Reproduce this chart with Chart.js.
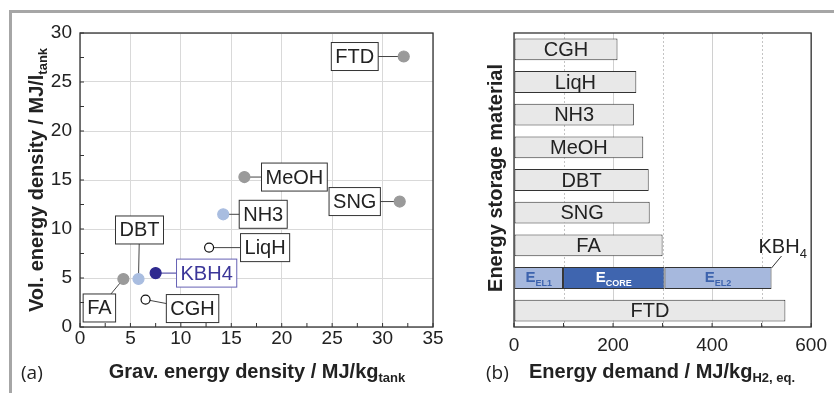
<!DOCTYPE html>
<html>
<head>
<meta charset="utf-8">
<script src="https://cdn.jsdelivr.net/npm/chart.js@4.4.1/dist/chart.umd.min.js"></script>
<style>
body { margin: 0; background: #fff; }
#page { position: relative; width: 834px; height: 393px; overflow: hidden; }
#left { position: absolute; left: 0; top: 0; }
#right { position: absolute; left: 480px; top: 0; }
#frameTop { position: absolute; left: 9px; top: 10px; width: 825px; height: 3px; background: #a6a6a6; }
#frameLeft { position: absolute; left: 9px; top: 10px; width: 3px; height: 383px; background: #a6a6a6; }
</style>
</head>
<body>
<div id="page">
  <canvas id="left" width="480" height="393"></canvas>
  <canvas id="right" width="354" height="393"></canvas>
  <div id="frameTop"></div>
  <div id="frameLeft"></div>
</div>
<script>
// (a) energy density per storage material
const pointNames = ['FTD', 'MeOH', 'SNG', 'NH3', 'LiqH', 'KBH4', 'DBT', 'FA', 'CGH'];
const gravDensity = [32.1, 16.3, 31.7, 14.2, 12.8, 7.5, 5.8, 4.3, 6.5];
const volDensity = [27.6, 15.3, 12.8, 11.5, 8.1, 5.5, 4.9, 4.9, 2.8];
const gravTicks = [0, 5, 10, 15, 20, 25, 30, 35];
const volTicks = [0, 5, 10, 15, 20, 25, 30];

// (b) energy demand per storage material
const materials = ['CGH', 'LiqH', 'NH3', 'MeOH', 'DBT', 'SNG', 'FA', 'KBH4', 'FTD'];
const energyDemand = [209, 247, 242, 261, 272, 274, 300, null, 548];
const kbhParts = ['EL1', 'CORE', 'EL2'];
const kbhDemand = [99, 205, 216];
const demandTicks = [0, 200, 400, 600];

// styles
const FONT = '"Liberation Sans", Arial, sans-serif';
const grey = '#9a9a9a', lightBlue = '#a9bde0', darkBlue = '#2f2a8f';
const pointFill = { FTD: grey, MeOH: grey, SNG: grey, FA: grey, NH3: lightBlue, DBT: lightBlue, KBH4: darkBlue, LiqH: '#fff', CGH: '#fff' };
// label box centre, offset in px from the point
const labelOffset = {
  FTD: [-49, 0], MeOH: [50, 0], SNG: [-45, 0], NH3: [40, 0], LiqH: [56, 0],
  KBH4: [51, 0], DBT: [1, -49], FA: [-24, 29], CGH: [47, 9]
};
const partFill = ['#a6b8dd', '#3f65af', '#a6b8dd'];
const partInk = ['#3d63ae', '#ffffff', '#3d63ae'];
const titleFont = 'bold 20px ' + FONT;
const subFont = 'bold 13px ' + FONT;

function richText(ctx, parts, x, y, align) {
  let w = 0;
  parts.forEach(p => { ctx.font = p[1]; w += ctx.measureText(p[0]).width; });
  let cx = align === 'center' ? x - w / 2 : (align === 'right' ? x - w : x);
  ctx.textAlign = 'left';
  parts.forEach(p => {
    ctx.font = p[1];
    ctx.fillText(p[0], cx, y + p[2]);
    cx += ctx.measureText(p[0]).width;
  });
}

// box round the plot area plus small inward ticks
const frameBox = {
  id: 'frameBox',
  afterDatasetsDraw(chart, args, opts) {
    const ctx = chart.ctx;
    const a = chart.chartArea;
    ctx.save();
    ctx.strokeStyle = '#333';
    ctx.lineWidth = 1.3;
    ctx.strokeRect(a.left, a.top, a.right - a.left, a.bottom - a.top);
    ctx.lineWidth = 1;
    const xs = chart.scales.x;
    for (let v = xs.min; v <= xs.max + 1e-6; v += opts.xStep) {
      const px = xs.getPixelForValue(v);
      ctx.beginPath(); ctx.moveTo(px, a.bottom); ctx.lineTo(px, a.bottom - 4); ctx.stroke();
    }
    if (opts.yStep) {
      const ys = chart.scales.y;
      for (let v = ys.min; v <= ys.max + 1e-6; v += opts.yStep) {
        const py = ys.getPixelForValue(v);
        ctx.beginPath(); ctx.moveTo(a.left, py); ctx.lineTo(a.left + 4, py); ctx.stroke();
      }
    }
    ctx.restore();
  }
};

const scatterLabels = {
  id: 'scatterLabels',
  beforeDatasetsDraw(chart) {
    const ctx = chart.ctx;
    const pts = chart.getDatasetMeta(0).data;
    ctx.save();
    ctx.font = '20px ' + FONT;
    pts.forEach((p, i) => {
      const name = pointNames[i];
      const off = labelOffset[name];
      const cx = p.x + off[0], cy = p.y + off[1];
      const w = ctx.measureText(name).width + 8, h = 28;
      const isK = name === 'KBH4';
      ctx.strokeStyle = isK ? '#3b3699' : '#444';
      ctx.lineWidth = 1;
      ctx.beginPath(); ctx.moveTo(p.x, p.y); ctx.lineTo(cx, cy); ctx.stroke();
      ctx.fillStyle = '#fff';
      ctx.fillRect(cx - w / 2, cy - h / 2, w, h);
      ctx.strokeStyle = isK ? '#6662b5' : '#333';
      ctx.strokeRect(cx - w / 2, cy - h / 2, w, h);
      ctx.fillStyle = isK ? '#3b3699' : '#222';
      ctx.textAlign = 'center';
      ctx.textBaseline = 'middle';
      ctx.fillText(name, cx, cy + 1);
    });
    ctx.restore();
  },
  afterDraw(chart) {
    const ctx = chart.ctx;
    ctx.save();
    ctx.fillStyle = '#222';
    ctx.textBaseline = 'alphabetic';
    richText(ctx, [['Grav. energy density / MJ/kg', titleFont, 0], ['tank', subFont, 4]], 257, 378, 'center');
    richText(ctx, [['(a)', '19px "Open Sans", sans-serif', 0]], 21, 379, 'left');
    ctx.translate(43, 180);
    ctx.rotate(-Math.PI / 2);
    richText(ctx, [['Vol. energy density / MJ/l', titleFont, 0], ['tank', subFont, 4]], 0, 0, 'center');
    ctx.restore();
  }
};

const minorGrid = {
  id: 'minorGrid',
  beforeDatasetsDraw(chart) {
    const ctx = chart.ctx;
    const a = chart.chartArea;
    const xs = chart.scales.x;
    ctx.save();
    ctx.strokeStyle = '#c4c4c4';
    ctx.lineWidth = 1;
    ctx.setLineDash([2, 2]);
    for (let v = 100; v < xs.max; v += 200) {
      const px = Math.round(xs.getPixelForValue(v)) + 0.5;
      ctx.beginPath(); ctx.moveTo(px, a.top); ctx.lineTo(px, a.bottom); ctx.stroke();
    }
    ctx.restore();
  }
};

const barLabels = {
  id: 'barLabels',
  afterDatasetsDraw(chart) {
    const ctx = chart.ctx;
    ctx.save();
    ctx.textBaseline = 'middle';
    ctx.textAlign = 'center';
    ctx.fillStyle = '#222';
    ctx.font = '20px ' + FONT;
    chart.getDatasetMeta(0).data.forEach((el, i) => {
      if (energyDemand[i] == null) return;
      ctx.fillText(materials[i], (el.x + el.base) / 2, el.y + 1);
    });
    const k = materials.indexOf('KBH4');
    let last;
    kbhParts.forEach((part, j) => {
      const el = chart.getDatasetMeta(j + 1).data[k];
      ctx.fillStyle = partInk[j];
      ctx.textBaseline = 'alphabetic';
      richText(ctx, [['E', 'bold 15px ' + FONT, 0], [part, 'bold 9px ' + FONT, 4]], (el.x + el.base) / 2, el.y + 4, 'center');
      last = el;
    });
    // KBH4 tag at the end of the stacked bar
    ctx.strokeStyle = '#333';
    ctx.lineWidth = 1;
    ctx.beginPath();
    ctx.moveTo(last.x, last.y - 10);
    ctx.lineTo(last.x + 10, last.y - 22);
    ctx.stroke();
    ctx.fillStyle = '#222';
    richText(ctx, [['KBH', '20px ' + FONT, 0], ['4', '13px ' + FONT, 5]], last.x - 13, last.y - 25, 'left');
    ctx.restore();
  },
  afterDraw(chart) {
    const ctx = chart.ctx;
    ctx.save();
    ctx.fillStyle = '#222';
    ctx.textBaseline = 'alphabetic';
    richText(ctx, [['Energy demand / MJ/kg', titleFont, 0], ['H2, eq.', subFont, 4]], 182, 378, 'center');
    richText(ctx, [['(b)', '19px "Open Sans", sans-serif', 0]], 6, 379, 'left');
    ctx.translate(22, 178);
    ctx.rotate(-Math.PI / 2);
    richText(ctx, [['Energy storage material', titleFont, 0]], 0, 0, 'center');
    ctx.restore();
  }
};

new Chart(document.getElementById('left'), {
  type: 'scatter',
  data: {
    datasets: [{
      data: pointNames.map((n, i) => ({ x: gravDensity[i], y: volDensity[i] })),
      pointRadius: pointNames.map(n => pointFill[n] === '#fff' ? 4.5 : 5.5),
      pointBackgroundColor: pointNames.map(n => pointFill[n]),
      pointBorderColor: pointNames.map(n => pointFill[n] === '#fff' ? '#111' : pointFill[n]),
      pointBorderWidth: 1.2
    }]
  },
  options: {
    responsive: false,
    animation: false,
    layout: { padding: { top: 33, right: 47, left: 0, bottom: 0 } },
    plugins: { legend: { display: false }, tooltip: { enabled: false }, frameBox: { xStep: 2.5, yStep: 2.5 } },
    scales: {
      x: {
        type: 'linear', min: 0, max: 35,
        afterBuildTicks: s => { s.ticks = gravTicks.map(v => ({ value: v })); },
        afterFit: s => { s.height = 66; },
        ticks: { color: '#222', font: { size: 19, family: FONT }, padding: 0 },
        grid: { color: '#d9d9d9', drawTicks: false },
        border: { display: false }
      },
      y: {
        type: 'linear', min: 0, max: 30,
        afterBuildTicks: s => { s.ticks = volTicks.map(v => ({ value: v })); },
        afterFit: s => { s.width = 80; },
        ticks: { color: '#222', font: { size: 19, family: FONT }, padding: 8 },
        grid: { color: '#d9d9d9', drawTicks: false },
        border: { display: false }
      }
    }
  },
  plugins: [scatterLabels, frameBox]
});

const k = materials.indexOf('KBH4');
new Chart(document.getElementById('right'), {
  type: 'bar',
  data: {
    labels: materials,
    datasets: [{
      data: energyDemand,
      backgroundColor: '#e8e8e8',
      borderColor: '#333',
      borderWidth: 1,
      borderSkipped: false
    }].concat(kbhParts.map((p, j) => ({
      data: materials.map((m, i) => i === k ? kbhDemand[j] : null),
      backgroundColor: partFill[j],
      borderColor: '#333',
      borderWidth: 1,
      borderSkipped: false
    })))
  },
  options: {
    indexAxis: 'y',
    responsive: false,
    animation: false,
    datasets: { bar: { categoryPercentage: 1, barPercentage: 0.67 } },
    layout: { padding: { top: 33, right: 21, left: 0, bottom: 0 } },
    plugins: { legend: { display: false }, tooltip: { enabled: false }, frameBox: { xStep: 100 } },
    scales: {
      x: {
        type: 'linear', min: 0, max: 600, stacked: true,
        afterBuildTicks: s => { s.ticks = demandTicks.map(v => ({ value: v })); },
        afterFit: s => { s.height = 66; },
        ticks: { color: '#222', font: { size: 19, family: FONT }, padding: 7 },
        grid: { color: '#d0d0d0', drawTicks: false },
        border: { display: false }
      },
      y: {
        stacked: true,
        afterFit: s => { s.width = 34; },
        ticks: { display: false },
        grid: { display: false },
        border: { display: false }
      }
    }
  },
  plugins: [minorGrid, barLabels, frameBox]
});
</script>
</body>
</html>
